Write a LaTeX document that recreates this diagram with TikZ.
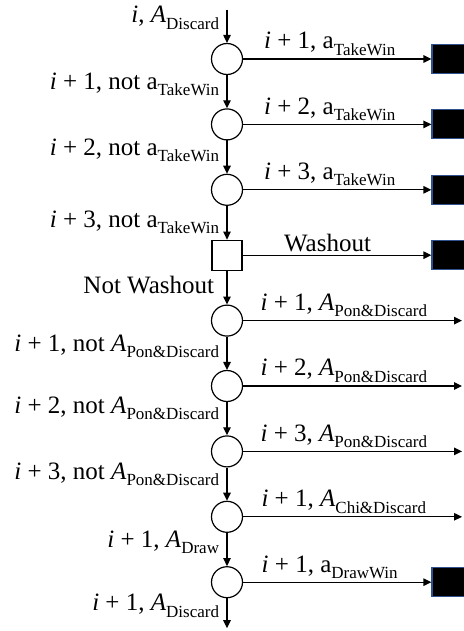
\documentclass[tikz,border=0pt]{standalone}
\usepackage{fontspec}
\setmainfont{Liberation Serif}
\usetikzlibrary{arrows.meta}
\usetikzlibrary{positioning}
\definecolor{wborder}{RGB}{47,82,143}
\newcommand\idx{\textit{i}}
\newcommand\Act{\textit{A}}
\newcommand\lsub[1]{\raisebox{-.25em}{\fontsize{17}{17}\selectfont #1}}
\tikzstyle{st}=[circle, draw, line width=1.2pt, minimum size=31pt, inner sep=0pt]
\tikzstyle{wbox}=[rectangle, draw, line width=1.2pt, minimum size=30pt, inner sep=0pt]
\tikzstyle{win}=[rectangle, draw=wborder, fill=black, line width=1.2pt, minimum width=34pt, minimum height=29pt, inner sep=0pt]
\tikzstyle{fl}=[line width=1.2pt, >={Triangle[length=8pt,width=7.5pt]}, ->]
\tikzstyle{lab}=[left, xshift=-4pt]
\tikzstyle{tlab}=[above, inner sep=3pt, pos=.46]

\begin{document}
\begin{tikzpicture}[font=\fontsize{25}{30}\selectfont, node distance=65.4pt, on grid]
	\useasboundingbox (0,0) rectangle (463pt,-631pt);
	% states down the middle
	\node[st] (t1) at (227pt,-59pt) {};
	\node[st,   below=of t1]   (t2)   {};
	\node[st,   below=of t2]   (t3)   {};
	\node[wbox, below=of t3]   (wash) {};
	\node[st,   below=of wash] (p1)   {};
	\node[st,   below=of p1]   (p2)   {};
	\node[st,   below=of p2]   (p3)   {};
	\node[st,   below=of p3]   (ch)   {};
	\node[st,   below=of ch]   (dr)   {};
	\coordinate[above=49pt of t1] (in);
	\coordinate[below=46pt of dr] (out);
	% end states and free ends on the right
	\node[win, right=222pt of t1]   (w1) {};
	\node[win, right=222pt of t2]   (w2) {};
	\node[win, right=222pt of t3]   (w3) {};
	\node[win, right=222pt of wash] (w4) {};
	\node[win, right=222pt of dr]   (w5) {};
	\coordinate[right=235pt of p1] (e1);
	\coordinate[right=235pt of p2] (e2);
	\coordinate[right=235pt of p3] (e3);
	\coordinate[right=235pt of ch] (e4);

	\draw[fl] (in)   --node[lab, pos=.24]{\idx, \Act\lsub{Discard}} (t1);
	\draw[fl] (t1)   --node[lab, pos=.28]{\idx{} + 1, not a\lsub{TakeWin}} (t2);
	\draw[fl] (t2)   --node[lab, pos=.3] {\idx{} + 2, not a\lsub{TakeWin}} (t3);
	\draw[fl] (t3)   --node[lab, pos=.48]{\idx{} + 3, not a\lsub{TakeWin}} (wash);
	\draw[fl] (wash) --node[lab, pos=.42, xshift=-5pt]{Not Washout} (p1);
	\draw[fl] (p1)   --node[lab, pos=.3] {\idx{} + 1, not \Act\lsub{Pon\&Discard}} (p2);
	\draw[fl] (p2)   --node[lab, pos=.18]{\idx{} + 2, not \Act\lsub{Pon\&Discard}} (p3);
	\draw[fl] (p3)   --node[lab, pos=.2] {\idx{} + 3, not \Act\lsub{Pon\&Discard}} (ch);
	\draw[fl] (ch)   --node[lab, pos=.28]{\idx{} + 1, \Act\lsub{Draw}} (dr);
	\draw[fl] (dr)   --node[lab, pos=.25]{\idx{} + 1, \Act\lsub{Discard}} (out);

	\draw[fl] (t1)   --node[tlab]{\idx{} + 1, a\lsub{TakeWin}} (w1);
	\draw[fl] (t2)   --node[tlab]{\idx{} + 2, a\lsub{TakeWin}} (w2);
	\draw[fl] (t3)   --node[tlab]{\idx{} + 3, a\lsub{TakeWin}} (w3);
	\draw[fl] (wash) --node[tlab, pos=.45]{Washout} (w4);
	\draw[fl] (p1)   --node[tlab]{\idx{} + 1, \Act\lsub{Pon\&Discard}} (e1);
	\draw[fl] (p2)   --node[tlab]{\idx{} + 2, \Act\lsub{Pon\&Discard}} (e2);
	\draw[fl] (p3)   --node[tlab]{\idx{} + 3, \Act\lsub{Pon\&Discard}} (e3);
	\draw[fl] (ch)   --node[tlab]{\idx{} + 1, \Act\lsub{Chi\&Discard}} (e4);
	\draw[fl] (dr)   --node[tlab]{\idx{} + 1, a\lsub{DrawWin}} (w5);
\end{tikzpicture}
\end{document}
